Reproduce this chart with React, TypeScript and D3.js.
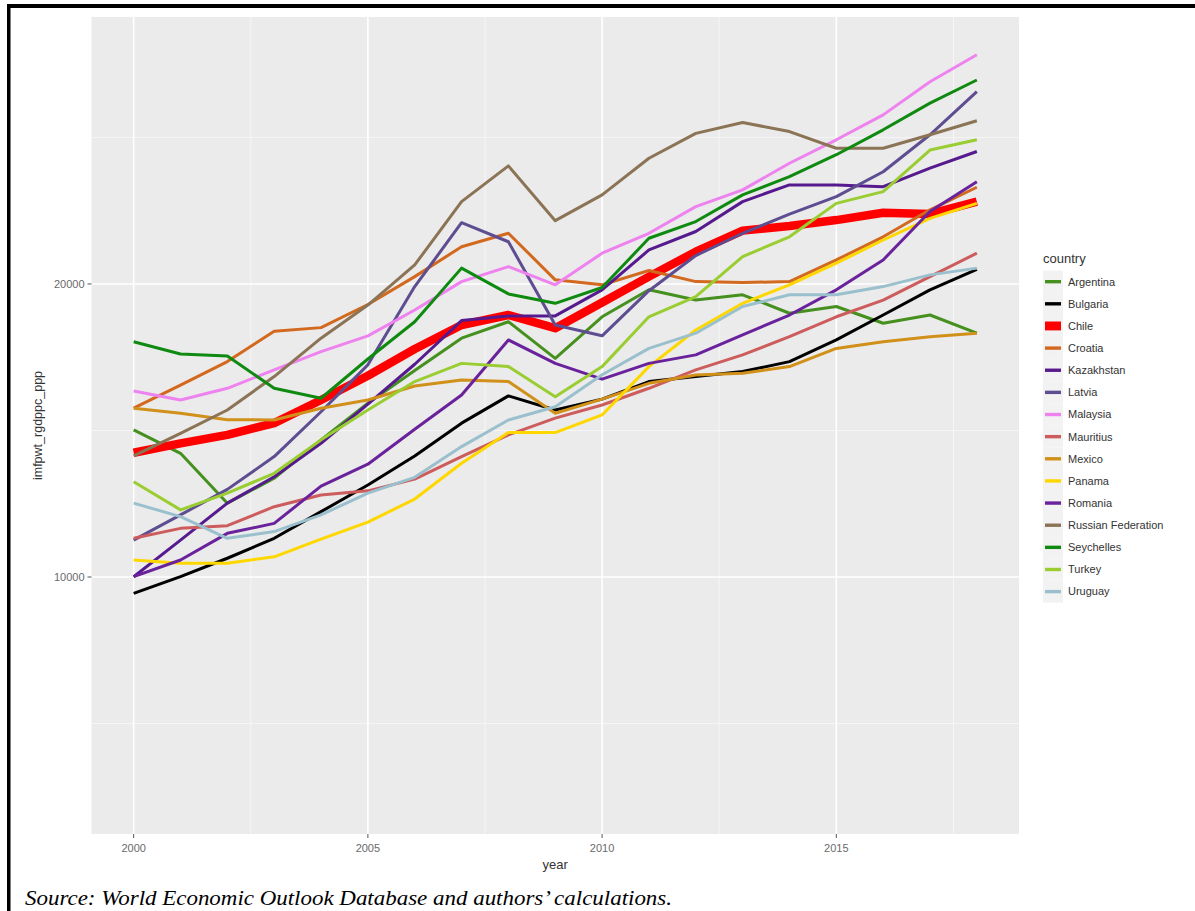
import React from "react";
import * as d3 from "d3";

const years = [2000, 2001, 2002, 2003, 2004, 2005, 2006, 2007, 2008, 2009, 2010, 2011, 2012, 2013, 2014, 2015, 2016, 2017, 2018];

const countries = ["Argentina", "Bulgaria", "Chile", "Croatia", "Kazakhstan", "Latvia", "Malaysia", "Mauritius", "Mexico", "Panama", "Romania", "Russian Federation", "Seychelles", "Turkey", "Uruguay"];
const countryColors = ["#45901e", "#000000", "#ff0000", "#d2691e", "#561a8e", "#5e4d90", "#ee82ee", "#cd5c5c", "#d0901a", "#ffd700", "#6a229c", "#8b7355", "#0f8a10", "#9acd32", "#9ac0cd"];
const countryWidths = [3, 3, 8.5, 3, 3, 3, 3, 3, 3, 3, 3, 3, 3, 3, 3];

const argentina = [15020, 14220, 12520, 13370, 14680, 15930, 17050, 18150, 18710, 17460, 18880, 19800, 19450, 19630, 19000, 19230, 18660, 18940, 18320];
const bulgaria = [9440, 10010, 10640, 11320, 12230, 13140, 14130, 15250, 16180, 15700, 16070, 16670, 16840, 17010, 17350, 18090, 18940, 19800, 20500];
const chile = [14240, 14560, 14850, 15250, 16040, 16870, 17780, 18600, 18940, 18490, 19370, 20250, 21100, 21820, 21980, 22180, 22430, 22390, 22810];
const croatia = [15760, 16550, 17350, 18390, 18510, 19300, 20250, 21270, 21730, 20140, 19970, 20460, 20080, 20050, 20080, 20820, 21610, 22530, 23300];
const kazakhstan = [10010, 11260, 12520, 13420, 14560, 15900, 17260, 18750, 18910, 18910, 19800, 21160, 21790, 22810, 23380, 23380, 23320, 23950, 24520];
const latvia = [11260, 12120, 12990, 14110, 15640, 17240, 19910, 22090, 21440, 18600, 18230, 19770, 20970, 21730, 22380, 22980, 23830, 25090, 26560];
const malaysia = [16350, 16040, 16440, 17070, 17690, 18230, 19110, 20080, 20590, 19970, 21050, 21730, 22640, 23210, 24120, 24920, 25770, 26900, 27820];
const mauritius = [11320, 11660, 11750, 12400, 12800, 12940, 13340, 14110, 14850, 15420, 15870, 16440, 17070, 17580, 18200, 18880, 19450, 20250, 21050];
const mexico = [15760, 15590, 15370, 15360, 15760, 16040, 16520, 16720, 16670, 15590, 16070, 16610, 16890, 16950, 17180, 17800, 18030, 18200, 18320];
const panama = [10580, 10470, 10470, 10690, 11290, 11870, 12660, 13880, 14930, 14930, 15530, 17180, 18430, 19340, 19970, 20710, 21500, 22240, 22750];
const romania = [10010, 10580, 11490, 11830, 13100, 13850, 15040, 16210, 18090, 17290, 16750, 17290, 17580, 18260, 18940, 19800, 20820, 22470, 23490];
const russia = [14130, 14900, 15700, 16840, 18150, 19280, 20650, 22810, 24030, 22160, 23040, 24290, 25140, 25510, 25200, 24630, 24630, 25090, 25570];
const seychelles = [18030, 17610, 17540, 16440, 16100, 17440, 18710, 20540, 19660, 19340, 19880, 21560, 22130, 23040, 23660, 24410, 25260, 26170, 26960];
const turkey = [13250, 12290, 12860, 13540, 14680, 15700, 16670, 17290, 17180, 16150, 17180, 18880, 19570, 20930, 21610, 22750, 23150, 24570, 24920];
const uruguay = [12520, 12060, 11320, 11550, 12120, 12860, 13400, 14450, 15360, 15810, 16900, 17800, 18320, 19230, 19630, 19630, 19910, 20310, 20540];

const seriesValues = [argentina, bulgaria, chile, croatia, kazakhstan, latvia, malaysia, mauritius, mexico, panama, romania, russia, seychelles, turkey, uruguay];

const xMajorTicks = [2000, 2005, 2010, 2015];
const xMinorTicks = [2002.5, 2007.5, 2012.5, 2017.5];
const yMajorTicks = [10000, 20000];
const yMinorTicks = [5000, 15000, 25000];

const xTitle = "year";
const yTitle = "imfpwt_rgdppc_ppp";
const legendTitle = "country";
const sourceNote = "Source: World Economic Outlook Database and authors\u2019 calculations.";

const W = 1195;
const H = 911;
const panel = { left: 91.5, right: 1019, top: 17, bottom: 834 };

export default function App() {
  const x = d3.scaleLinear().domain([1999.1, 2018.9]).range([panel.left, panel.right]);
  const y = d3.scaleLinear().domain([1230, 29110]).range([panel.bottom, panel.top]);
  const line = d3
    .line<[number, number]>()
    .x((d) => x(d[0]))
    .y((d) => y(d[1]));

  const sans = "'Liberation Sans', Arial, sans-serif";
  const legendX = 1043;
  const keyH = 22.14;
  const legendTop = 270.6;

  return (
    <svg
      width={W}
      height={H}
      viewBox={`0 0 ${W} ${H}`}
      style={{ position: "absolute", left: 0, top: 0, background: "#fff" }}
    >
      <rect x={0} y={0} width={W} height={H} fill="#ffffff" />
      {/* frame */}
      <rect x={7} y={4} width={W - 7} height={4} fill="#000" />
      <rect x={7} y={4} width={3.5} height={H - 4} fill="#000" />

      {/* panel */}
      <rect
        x={panel.left}
        y={panel.top}
        width={panel.right - panel.left}
        height={panel.bottom - panel.top}
        fill="#ebebeb"
      />
      {yMinorTicks.map((t) => (
        <line key={"ym" + t} x1={panel.left} x2={panel.right} y1={y(t)} y2={y(t)} stroke="#f7f7f7" strokeWidth={0.9} />
      ))}
      {xMinorTicks.map((t) => (
        <line key={"xm" + t} x1={x(t)} x2={x(t)} y1={panel.top} y2={panel.bottom} stroke="#f7f7f7" strokeWidth={0.9} />
      ))}
      {yMajorTicks.map((t) => (
        <line key={"yM" + t} x1={panel.left} x2={panel.right} y1={y(t)} y2={y(t)} stroke="#ffffff" strokeWidth={1.6} />
      ))}
      {xMajorTicks.map((t) => (
        <line key={"xM" + t} x1={x(t)} x2={x(t)} y1={panel.top} y2={panel.bottom} stroke="#ffffff" strokeWidth={1.6} />
      ))}

      {/* series */}
      {seriesValues.map((vals, i) => (
        <path
          key={countries[i]}
          d={line(years.map((yr, j) => [yr, vals[j]] as [number, number])) || ""}
          fill="none"
          stroke={countryColors[i]}
          strokeWidth={countryWidths[i]}
          strokeLinejoin="round"
        />
      ))}

      {/* axes */}
      {yMajorTicks.map((t) => (
        <g key={"yl" + t}>
          <line x1={panel.left - 4} x2={panel.left} y1={y(t)} y2={y(t)} stroke="#555" strokeWidth={1} />
          <text x={panel.left - 7} y={y(t)} dy="0.35em" textAnchor="end" fontFamily={sans} fontSize={11} fill="#6a6a6a">
            {t}
          </text>
        </g>
      ))}
      {xMajorTicks.map((t) => (
        <g key={"xl" + t}>
          <line x1={x(t)} x2={x(t)} y1={panel.bottom} y2={panel.bottom + 4} stroke="#555" strokeWidth={1} />
          <text x={x(t)} y={panel.bottom + 18} textAnchor="middle" fontFamily={sans} fontSize={11} fill="#6a6a6a">
            {t}
          </text>
        </g>
      ))}
      <text
        x={(panel.left + panel.right) / 2}
        y={869}
        textAnchor="middle"
        fontFamily={sans}
        fontSize={13}
        fill="#333"
      >
        {xTitle}
      </text>
      <text
        transform={`translate(42, ${(panel.top + panel.bottom) / 2}) rotate(-90)`}
        textAnchor="middle"
        fontFamily={sans}
        fontSize={12.5}
        fill="#333"
      >
        {yTitle}
      </text>

      {/* legend */}
      <text x={legendX} y={263} fontFamily={sans} fontSize={13} fill="#333">
        {legendTitle}
      </text>
      {countries.map((c, i) => {
        const cy = legendTop + keyH * i + keyH / 2;
        return (
          <g key={"lg" + c}>
            <rect x={legendX} y={legendTop + keyH * i} width={20} height={keyH} fill="#f2f2f2" />
            <line
              x1={legendX + 2}
              x2={legendX + 18}
              y1={cy}
              y2={cy}
              stroke={countryColors[i]}
              strokeWidth={countryWidths[i] + 0.4}
            />
            <text x={legendX + 25} y={cy} dy="0.35em" fontFamily={sans} fontSize={11} fill="#333">
              {c}
            </text>
          </g>
        );
      })}

      {/* source note */}
      <text
        x={25}
        y={905}
        fontFamily="'Liberation Serif', 'Times New Roman', serif"
        fontStyle="italic"
        fontSize={21.5}
        fill="#000"
        textLength={647}
        lengthAdjust="spacingAndGlyphs"
      >
        {sourceNote}
      </text>
    </svg>
  );
}
